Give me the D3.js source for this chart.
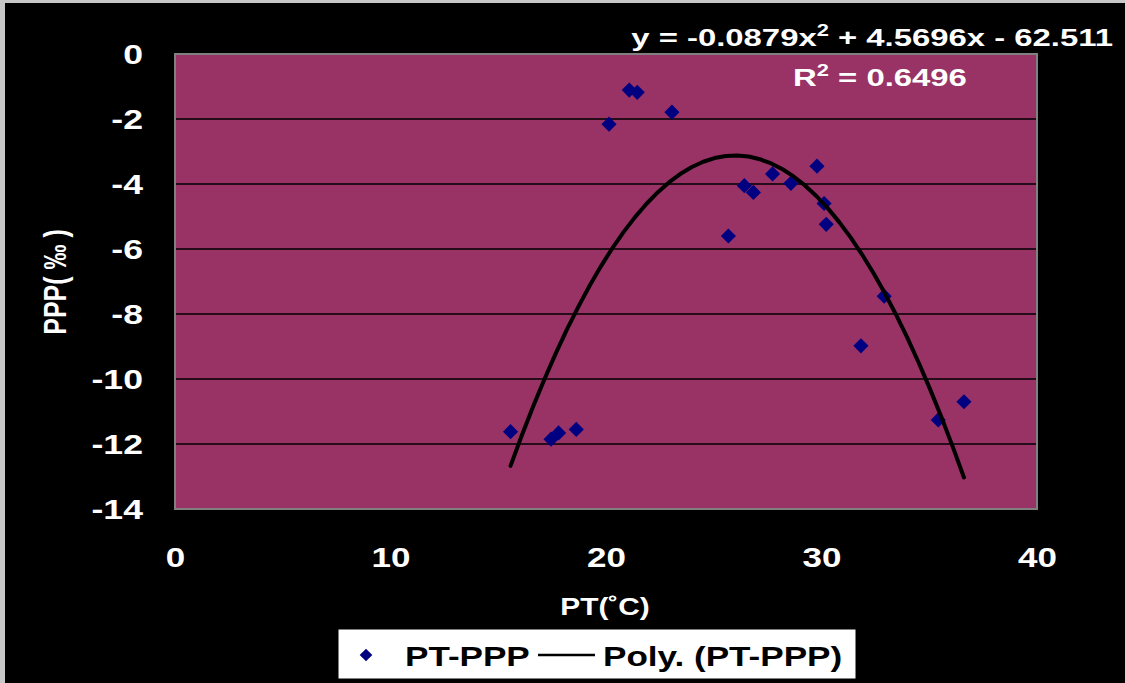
<!DOCTYPE html>
<html>
<head>
<meta charset="utf-8">
<script src="https://cdn.jsdelivr.net/npm/d3@7"></script>
<style>
  body { margin: 0; background: #000; }
  text { font-family: "Liberation Sans", Arial, sans-serif; font-weight: bold; }
</style>
</head>
<body>
<div id="chart"></div>
<script>
// canvas size and plot area
var width = 1125,
    height = 683;
var plot = {left: 175, top: 54, right: 1037, bottom: 509};
// the original picture is stretched sideways, so text is widened a bit
var stretch = 1.32;

// PT (°C) readings and PPP (‰) values
var ptValues = [15.57, 17.45, 17.8, 18.62, 20.14, 21.08, 21.45, 23.06, 25.68, 26.42,
                26.84, 27.73, 28.58, 29.79, 30.12, 30.22, 32.91, 31.83, 36.61, 35.42];
var pppValues = [-11.62, -11.85, -11.66, -11.55, -2.16, -1.11, -1.18, -1.79, -5.6, -4.05,
                 -4.26, -3.69, -3.98, -3.45, -4.6, -5.24, -7.45, -8.98, -10.7, -11.26];

// trendline coefficients shown on the chart (a x^2 + b x + c)
var polyCoef = [-0.0879, 4.5696, -62.511];

var xTicks = [0, 10, 20, 30, 40];
var yTicks = [0, -2, -4, -6, -8, -10, -12, -14];

var svg = d3.select("#chart")
  .append("svg")
    .attr("width", width)
    .attr("height", height);

// wide text helper
function label(px, py, size, anchor, fill, sx) {
  return svg.append("text")
    .attr("transform", "translate(" + px + "," + py + ") scale(" + (sx || stretch) + ",1)")
    .attr("text-anchor", anchor)
    .attr("fill", fill)
    .style("font-size", size + "px");
}

// light frame on the top / left edge, then black chart area
svg.append("rect")
    .attr("width", width).attr("height", height)
    .attr("fill", "#c8c8c8");
svg.append("rect")
    .attr("x", 5).attr("y", 3)
    .attr("width", width - 5).attr("height", height - 3)
    .attr("fill", "#000");

var x = d3.scaleLinear().domain([0, 40]).range([plot.left, plot.right]);
var y = d3.scaleLinear().domain([-14, 0]).range([plot.bottom, plot.top]);

// plot background
svg.append("rect")
    .attr("x", plot.left).attr("y", plot.top)
    .attr("width", plot.right - plot.left).attr("height", plot.bottom - plot.top)
    .attr("fill", "#993366");

// horizontal gridlines
svg.append("g")
  .selectAll("line")
  .data(yTicks.filter(function(d){ return d != 0 && d != -14; }))
  .enter()
  .append("line")
    .attr("x1", plot.left).attr("x2", plot.right)
    .attr("y1", function(d){ return y(d); })
    .attr("y2", function(d){ return y(d); })
    .attr("stroke", "#000")
    .attr("stroke-width", 1.5);

// plot border
svg.append("rect")
    .attr("x", plot.left).attr("y", plot.top)
    .attr("width", plot.right - plot.left).attr("height", plot.bottom - plot.top)
    .attr("fill", "none")
    .attr("stroke", "#808080")
    .attr("stroke-width", 2);

// axes: tick labels only
var yAxis = d3.axisLeft(y).tickValues(yTicks).tickSize(0)
    .tickFormat(function(d){ return String(d); });
var gy = svg.append("g")
    .attr("transform", "translate(" + plot.left + ",0)")
    .call(yAxis);
gy.select(".domain").remove();
gy.selectAll("text")
    .attr("x", 0).attr("dy", "0.36em")
    .attr("transform", "translate(-32,0) scale(" + stretch + ",1)")
    .attr("fill", "#fff")
    .style("font-size", "27px");

var xAxis = d3.axisBottom(x).tickValues(xTicks).tickSize(0);
var gx = svg.append("g")
    .attr("transform", "translate(0," + plot.bottom + ")")
    .call(xAxis);
gx.select(".domain").remove();
gx.selectAll("text")
    .attr("y", 0).attr("dy", 0)
    .attr("transform", "translate(0,58) scale(1.25,1)")
    .attr("fill", "#fff")
    .style("font-size", "28px");

// data points (diamonds)
var diamond = d3.symbol().type(d3.symbolSquare).size(115);
svg.append("g")
  .selectAll("path")
  .data(ptValues.map(function(v, i){ return [v, pppValues[i]]; }))
  .enter()
  .append("path")
    .attr("d", diamond)
    .attr("transform", function(d){ return "translate(" + x(d[0]) + "," + y(d[1]) + ") rotate(45)"; })
    .attr("fill", "#000080");

// polynomial trendline over the range of the data
var xMin = d3.min(ptValues), xMax = d3.max(ptValues);
var trend = d3.range(0, 41).map(function(i){
  var t = xMin + (xMax - xMin) * i / 40;
  return [t, polyCoef[0] * t * t + polyCoef[1] * t + polyCoef[2]];
});
svg.append("path")
    .datum(trend)
    .attr("d", d3.line().x(function(d){ return x(d[0]); }).y(function(d){ return y(d[1]); }))
    .attr("fill", "none")
    .attr("stroke", "#000")
    .attr("stroke-width", 4)
    .attr("stroke-linecap", "round")
    .attr("stroke-linejoin", "round");

// equation and R squared
var eq = label(1113, 46, 24, "end", "#fff", 1.37);
eq.append("tspan").text("y = -0.0879x");
eq.append("tspan").attr("dy", -10).style("font-size", "16px").text("2");
eq.append("tspan").attr("dy", 10).text(" + 4.5696x - 62.511");

var r2 = label(793, 86, 24, "start", "#fff", 1.37);
r2.append("tspan").text("R");
r2.append("tspan").attr("dy", -10).style("font-size", "16px").text("2");
r2.append("tspan").attr("dy", 10).text(" = 0.6496");

// axis titles
label(605, 615, 23, "middle", "#fff", 1.3).text("PT(˚C)");

svg.append("text")
    .attr("transform", "translate(66,282) rotate(-90) scale(1,1.25)")
    .attr("text-anchor", "middle")
    .attr("fill", "#fff")
    .style("font-size", "25px")
    .text("PPP( ‰ )");

// legend
svg.append("rect")
    .attr("x", 338).attr("y", 629)
    .attr("width", 518).attr("height", 50)
    .attr("fill", "#fff")
    .attr("stroke", "#000")
    .attr("stroke-width", 1);
svg.append("path")
    .attr("d", d3.symbol().type(d3.symbolSquare).size(80))
    .attr("transform", "translate(366,655) rotate(45)")
    .attr("fill", "#000080");
label(405, 666, 27, "start", "#000", 1.3).text("PT-PPP");
svg.append("line")
    .attr("x1", 538).attr("x2", 595)
    .attr("y1", 655).attr("y2", 655)
    .attr("stroke", "#000")
    .attr("stroke-width", 2.5);
label(603, 666, 27, "start", "#000", 1.3).text("Poly. (PT-PPP)");
</script>
</body>
</html>
